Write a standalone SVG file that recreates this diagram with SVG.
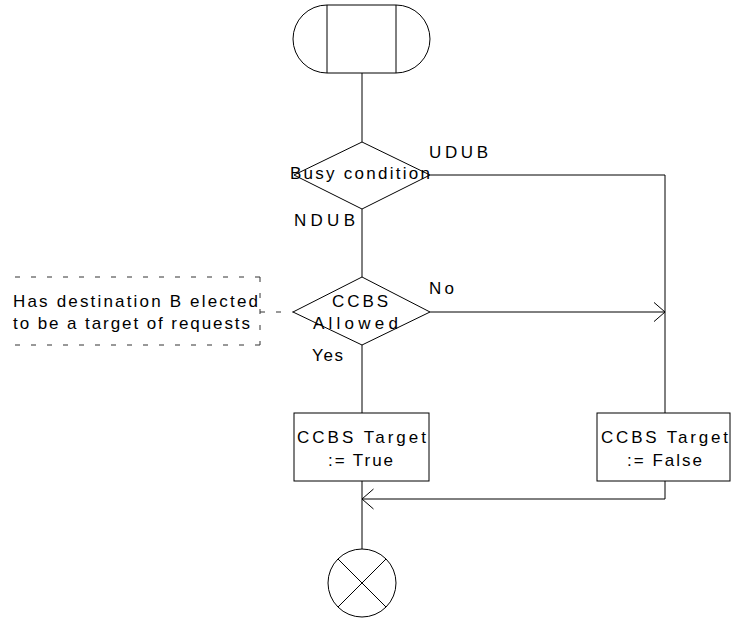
<svg xmlns="http://www.w3.org/2000/svg" width="731" height="620" viewBox="0 0 731 620">
<style>
.s{fill:none;stroke:#000;stroke-width:1}
.w{fill:#fff;stroke:#000;stroke-width:1}
.d{fill:none;stroke:#333;stroke-width:1;stroke-dasharray:5,11}
text{font-family:"Liberation Sans",Arial,sans-serif;font-size:17px;fill:#000}
</style>
<defs>
<marker id="arr" viewBox="0 0 12 22" refX="11.5" refY="11" markerWidth="12" markerHeight="22" markerUnits="userSpaceOnUse" orient="auto">
<path d="M0,1 L11.5,11 L0,21" fill="none" stroke="#000" stroke-width="1"/>
</marker>
</defs>
<g id="connectors">
<path class="s" d="M362,73 V142"/>
<path class="s" d="M362,209 V277"/>
<path class="s" d="M430,175 H665 V413"/>
<path class="s" d="M430,312 H665" marker-end="url(#arr)"/>
<path class="s" d="M362,345 V413"/>
<path class="s" d="M665,481 V499 H362" marker-end="url(#arr)"/>
<path class="s" d="M362,481 V549"/>
<path class="d" d="M260,312 H293"/>
</g>
<g id="start">
<path class="w" d="M327,5 H396 A34,34 0 0 1 396,73 H327 A34,34 0 0 1 327,5 Z"/>
<path class="s" d="M327,5 V73 M396,5 V73"/>
</g>
<g id="busy">
<path class="w" d="M362,142 L430,175 L362,209 L294,175 Z"/>
<text x="290" y="179" textLength="140" lengthAdjust="spacing">Busy condition</text>
</g>
<g id="labels">
<text x="429" y="158" textLength="59" lengthAdjust="spacing">UDUB</text>
<text x="294" y="226" textLength="61" lengthAdjust="spacing">NDUB</text>
<text x="429" y="294" textLength="25" lengthAdjust="spacing">No</text>
<text x="312" y="361" textLength="31" lengthAdjust="spacing">Yes</text>
</g>
<g id="ccbs">
<path class="w" d="M362,277 L430,312 L362,345 L293,312 Z"/>
<text x="332" y="307" textLength="56" lengthAdjust="spacing">CCBS</text>
<text x="313" y="329" textLength="85" lengthAdjust="spacing">Allowed</text>
</g>
<g id="comment">
<path class="d" d="M260,277 H15 M260,277 V345 M260,345 H15"/>
<text x="13" y="307" textLength="245" lengthAdjust="spacing">Has destination B elected</text>
<text x="13" y="329" textLength="237" lengthAdjust="spacing">to be a target of requests</text>
</g>
<g id="targetTrue">
<rect class="w" x="294" y="413" width="135" height="68"/>
<text x="297" y="443" textLength="129" lengthAdjust="spacing">CCBS Target</text>
<text x="328" y="466" textLength="65" lengthAdjust="spacing">:= True</text>
</g>
<g id="targetFalse">
<rect class="w" x="597" y="413" width="133" height="68"/>
<text x="601" y="443" textLength="127" lengthAdjust="spacing">CCBS Target</text>
<text x="627" y="466" textLength="75" lengthAdjust="spacing">:= False</text>
</g>
<g id="end">
<circle class="w" cx="362" cy="583" r="34"/>
<path class="s" d="M338,559 L386,607 M386,559 L338,607"/>
</g>
</svg>
